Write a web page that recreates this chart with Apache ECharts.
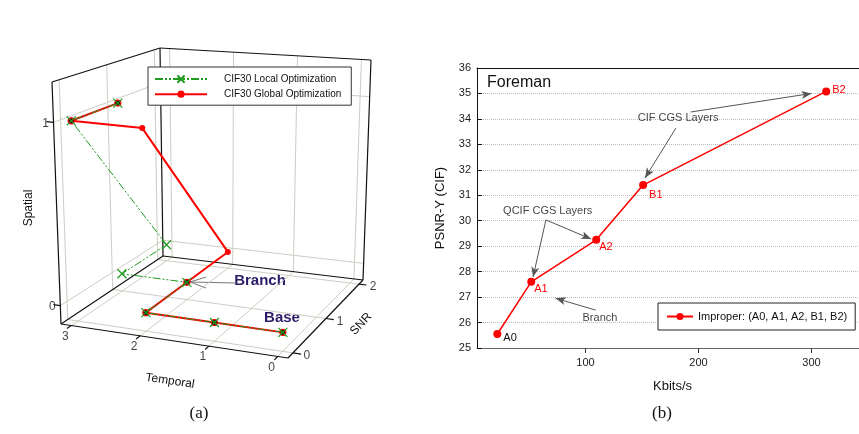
<!DOCTYPE html>
<html>
<head>
<meta charset="utf-8">
<script src="https://cdn.jsdelivr.net/npm/echarts@6/dist/echarts.min.js"></script>
<style>
  html, body { margin: 0; background: #fff; }
  #main { width: 859px; height: 434px; }
</style>
</head>
<body>
<div id="main"></div>
<script>
// (a) paths through the layer space, each point is [temporal, snr, spatial]
const localPath = [[0, 0, 0], [1, 0, 0], [2, 0, 0], [2, 1, 0], [3, 1, 0], [3, 2, 0], [3, 0, 1], [3, 1, 1]];
const globalPath = [[0, 0, 0], [1, 0, 0], [2, 0, 0], [2, 1, 0], [2, 2, 0], [2, 0, 1], [3, 0, 1], [3, 1, 1]];
const temporalTicks = [0, 1, 2, 3];
const snrTicks = [0, 1, 2];
const spatialTicks = [0, 1];

// (b) rate / PSNR points
const pointNames = ['A0', 'A1', 'A2', 'B1', 'B2'];
const rateKbps = [22, 52, 109.5, 151, 313];
const psnrY = [25.55, 27.6, 29.25, 31.4, 35.08];
const rateTicks = [100, 200, 300];

const FONT = '"Liberation Sans", Arial, sans-serif';
const GREEN = '#1f9a1f';
const RED = '#ff0000';

// --- simple projection of the 3d box onto the left panel ---
const T0 = -0.15, T1 = 3.15, N0 = -0.15, N1 = 2.12, S0 = -0.1, S1 = 1.22;
// screen corners: a=(T0,N0) b=(T1,N0) c=(T0,N1) d=(T1,N1)
const floorC = { a: [288, 358], b: [61, 324], c: [363, 280], d: [163, 256] };
const roofC = { a: [290, 105], b: [52, 82], c: [371, 60], d: [160, 48] };

function proj(t, n, s) {
    const u = (t - T0) / (T1 - T0), v = (n - N0) / (N1 - N0), w = (s - S0) / (S1 - S0);
    const bil = c => [0, 1].map(k =>
        c.a[k] * (1 - u) * (1 - v) + c.b[k] * u * (1 - v) + c.c[k] * (1 - u) * v + c.d[k] * u * v);
    const p = bil(floorC), q = bil(roofC);
    return [p[0] + (q[0] - p[0]) * w, p[1] + (q[1] - p[1]) * w];
}
const seg = (a, b) => ({ coords: [proj(...a), proj(...b)] });

const gridSegs = [];
temporalTicks.forEach(t => gridSegs.push(seg([t, N0, S0], [t, N1, S0])));
snrTicks.forEach(n => gridSegs.push(seg([T0, n, S0], [T1, n, S0])));
spatialTicks.forEach(s => gridSegs.push(seg([T1, N0, s], [T1, N1, s])));
snrTicks.forEach(n => gridSegs.push(seg([T1, n, S0], [T1, n, S1])));
spatialTicks.forEach(s => gridSegs.push(seg([T0, N1, s], [T1, N1, s])));
temporalTicks.forEach(t => gridSegs.push(seg([t, N1, S0], [t, N1, S1])));

const edgeSegs = [
    seg([T1, N0, S0], [T1, N0, S1]),
    seg([T1, N0, S1], [T1, N1, S1]),
    seg([T1, N1, S1], [T0, N1, S1]),
    seg([T0, N1, S0], [T0, N1, S1]),
    seg([T1, N1, S0], [T1, N1, S1]),
    seg([T1, N0, S0], [T0, N0, S0]),
    seg([T0, N0, S0], [T0, N1, S0]),
    seg([T0, N1, S0], [T1, N1, S0]),
    seg([T1, N1, S0], [T1, N0, S0])
];
temporalTicks.forEach(t => edgeSegs.push(seg([t, N0, S0], [t, N0 - 0.1, S0])));
snrTicks.forEach(n => edgeSegs.push(seg([T0, n, S0], [T0 - 0.12, n, S0])));
spatialTicks.forEach(s => edgeSegs.push(seg([T1, N0, s], [T1 + 0.1, N0, s])));

const key = p => p.join(',');
const localKeys = new Set(localPath.map(key));

const tickLabels = (data, offset, align) => ({
    type: 'scatter', xAxisIndex: 0, yAxisIndex: 0, symbolSize: 0, silent: true,
    data,
    label: {
        show: true, position: 'inside', offset, align,
        formatter: p => p.value[2], color: '#111', fontSize: 12, fontFamily: FONT
    }
});

const labelPos = { A0: [10, 2], B1: [10, 8], B2: [10, -3] };

const chart = echarts.init(document.getElementById('main'));

chart.setOption({
    animation: false,
    backgroundColor: '#fff',
    title: [
        { text: 'Foreman', left: 482, top: 70, textStyle: { fontFamily: FONT, fontSize: 16, fontWeight: 'normal', color: '#111' } }
    ],
    legend: [
        {
            data: ['CIF30 Local Optimization', 'CIF30 Global Optimization'],
            orient: 'vertical', left: 148, top: 67,
            backgroundColor: '#fff', borderColor: '#333', borderWidth: 1, borderRadius: 0,
            padding: [6, 10, 6, 6], itemGap: 4, itemWidth: 52, itemHeight: 9,
            textStyle: { fontFamily: FONT, fontSize: 10, color: '#111', padding: [0, 0, 0, 12] }
        },
        {
            data: ['Improper: (A0, A1, A2, B1, B2)'],
            left: 658, top: 303,
            backgroundColor: '#fff', borderColor: '#222', borderWidth: 1, borderRadius: 0,
            padding: [8, 8], itemWidth: 26, itemHeight: 9,
            textStyle: { fontFamily: FONT, fontSize: 11, color: '#111' }
        }
    ],
    grid: [
        { left: 0, top: 0, width: 400, height: 434, outerBoundsMode: 'none' },
        { left: 477, top: 68, width: 391, height: 280, outerBoundsMode: 'none' }
    ],
    xAxis: [
        { gridIndex: 0, type: 'value', min: 0, max: 400, show: false },
        {
            gridIndex: 1, type: 'value', min: 4, max: 350,
            name: 'Kbits/s', nameLocation: 'middle', nameGap: 32,
            nameTextStyle: { fontFamily: FONT, fontSize: 13, color: '#111' },
            axisLine: { lineStyle: { color: '#666' } },
            axisTick: { length: 5, customValues: rateTicks, lineStyle: { color: '#333' } },
            axisLabel: { customValues: rateTicks, fontFamily: FONT, fontSize: 11, color: '#222', margin: 9 },
            splitLine: { show: false }
        },
        {
            gridIndex: 1, type: 'value', min: 4, max: 350, position: 'top',
            axisLine: { lineStyle: { color: '#111' } },
            axisTick: { show: false }, axisLabel: { show: false }, splitLine: { show: false }
        }
    ],
    yAxis: [
        { gridIndex: 0, type: 'value', min: 0, max: 434, inverse: true, show: false },
        {
            gridIndex: 1, type: 'value', min: 25, max: 36, interval: 1,
            name: 'PSNR-Y (CIF)', nameLocation: 'middle', nameGap: 30,
            nameTextStyle: { fontFamily: FONT, fontSize: 13, color: '#111' },
            axisLine: { lineStyle: { color: '#111' } },
            axisTick: { inside: true, length: 5, lineStyle: { color: '#111' } },
            axisLabel: { fontFamily: FONT, fontSize: 11, color: '#222', margin: 6 },
            splitLine: { show: true, lineStyle: { type: 'dotted', color: '#bbb' } }
        }
    ],
    series: [
        {
            type: 'lines', coordinateSystem: 'cartesian2d', xAxisIndex: 0, yAxisIndex: 0, silent: true,
            data: gridSegs, lineStyle: { color: '#cdcdc4', width: 1, opacity: 1 }
        },
        {
            type: 'lines', coordinateSystem: 'cartesian2d', xAxisIndex: 0, yAxisIndex: 0, silent: true,
            data: edgeSegs, lineStyle: { color: '#111', width: 1.2, opacity: 1 }, z: 3
        },
        tickLabels(temporalTicks.map(t => [...proj(t, N0, S0), t]), [-6, 11], 'center'),
        tickLabels(snrTicks.map(n => [...proj(T0, n, S0), n]), [14, 3], 'center'),
        tickLabels(spatialTicks.map(s => [...proj(T1, N0, s), s]), [-8, 1], 'center'),
        {
            name: 'CIF30 Global Optimization', type: 'line', xAxisIndex: 0, yAxisIndex: 0, z: 4,
            data: globalPath.map(p => localKeys.has(key(p))
                ? { value: proj(...p), itemStyle: { color: '#200', borderColor: RED, borderWidth: 1.2 } }
                : proj(...p)),
            symbol: 'circle', symbolSize: 6, showAllSymbol: true,
            itemStyle: { color: RED },
            lineStyle: { color: RED, width: 2 }
        },
        {
            name: 'CIF30 Local Optimization', type: 'line', xAxisIndex: 0, yAxisIndex: 0, z: 5,
            data: localPath.map(p => proj(...p)),
            symbol: 'path://M0,0L10,10M10,0L0,10', symbolSize: 9, showAllSymbol: true,
            itemStyle: { color: 'none', borderColor: GREEN, borderWidth: 1.2 },
            lineStyle: { color: GREEN, width: 1, type: [8, 2, 2, 2, 2, 2] }
        },
        {
            name: 'Improper: (A0, A1, A2, B1, B2)', type: 'line', xAxisIndex: 1, yAxisIndex: 1,
            data: rateKbps.map((x, i) => ({
                value: [x, psnrY[i]], name: pointNames[i],
                label: {
                    position: labelPos[pointNames[i]] || [7, 6],
                    color: i === 0 ? '#111' : RED
                }
            })),
            symbol: 'circle', symbolSize: 8,
            itemStyle: { color: RED },
            lineStyle: { color: RED, width: 1.5 },
            label: { show: true, formatter: p => p.name, fontFamily: FONT, fontSize: 11 },
            markLine: {
                silent: true, symbol: ['none', 'arrow'], symbolSize: [6, 10],
                label: { show: false },
                lineStyle: { color: '#555', width: 1, type: 'solid' },
                data: [
                    [{ coord: [65, 30.03] }, { coord: [53.6, 27.79] }],
                    [{ coord: [65, 30.03] }, { coord: [105, 29.28] }],
                    [{ coord: [180, 33.64] }, { coord: [152.7, 31.68] }],
                    [{ coord: [193, 34.27] }, { coord: [300, 35.0] }],
                    [{ coord: [109, 26.49] }, { coord: [73.6, 26.95] }]
                ]
            }
        },
        {
            type: 'scatter', xAxisIndex: 1, yAxisIndex: 1, symbolSize: 0, silent: true,
            data: [
                { value: [66.6, 30.39], name: 'QCIF CGS Layers' },
                { value: [182, 34.03], name: 'CIF CGS Layers' },
                { value: [112.8, 26.17], name: 'Branch' }
            ],
            label: { show: true, position: 'inside', formatter: p => p.name, fontFamily: FONT, fontSize: 11, color: '#111' }
        }
    ],
    graphic: [
        { type: 'text', x: 170, y: 381, rotation: -0.148, style: { text: 'Temporal', font: '12px ' + FONT, fill: '#111', align: 'center', verticalAlign: 'middle' } },
        { type: 'text', x: 29, y: 208, rotation: Math.PI / 2, style: { text: 'Spatial', font: '12px ' + FONT, fill: '#111', align: 'center', verticalAlign: 'middle' } },
        { type: 'text', x: 361, y: 324, rotation: 0.82, style: { text: 'SNR', font: '12px ' + FONT, fill: '#111', align: 'center', verticalAlign: 'middle' } },
        { type: 'text', x: 260, y: 281, style: { text: 'Branch', font: 'bold 15px ' + FONT, fill: '#2d1b69', align: 'center', verticalAlign: 'middle' } },
        { type: 'text', x: 282, y: 318, style: { text: 'Base', font: 'bold 15px ' + FONT, fill: '#2d1b69', align: 'center', verticalAlign: 'middle' } },
        { type: 'line', shape: { x1: 236, y1: 283, x2: 190, y2: 282 }, style: { stroke: '#777', lineWidth: 1 } },
        { type: 'polyline', shape: { points: [[206, 277], [190, 282], [206, 288]] }, style: { stroke: '#777', lineWidth: 1, fill: null } },
        { type: 'text', x: 199, y: 414, style: { text: '(a)', font: '17px "Liberation Serif", "DejaVu Serif", serif', fill: '#111', align: 'center', verticalAlign: 'middle' } },
        { type: 'text', x: 662, y: 414, style: { text: '(b)', font: '17px "Liberation Serif", "DejaVu Serif", serif', fill: '#111', align: 'center', verticalAlign: 'middle' } }
    ]
});
</script>
</body>
</html>
